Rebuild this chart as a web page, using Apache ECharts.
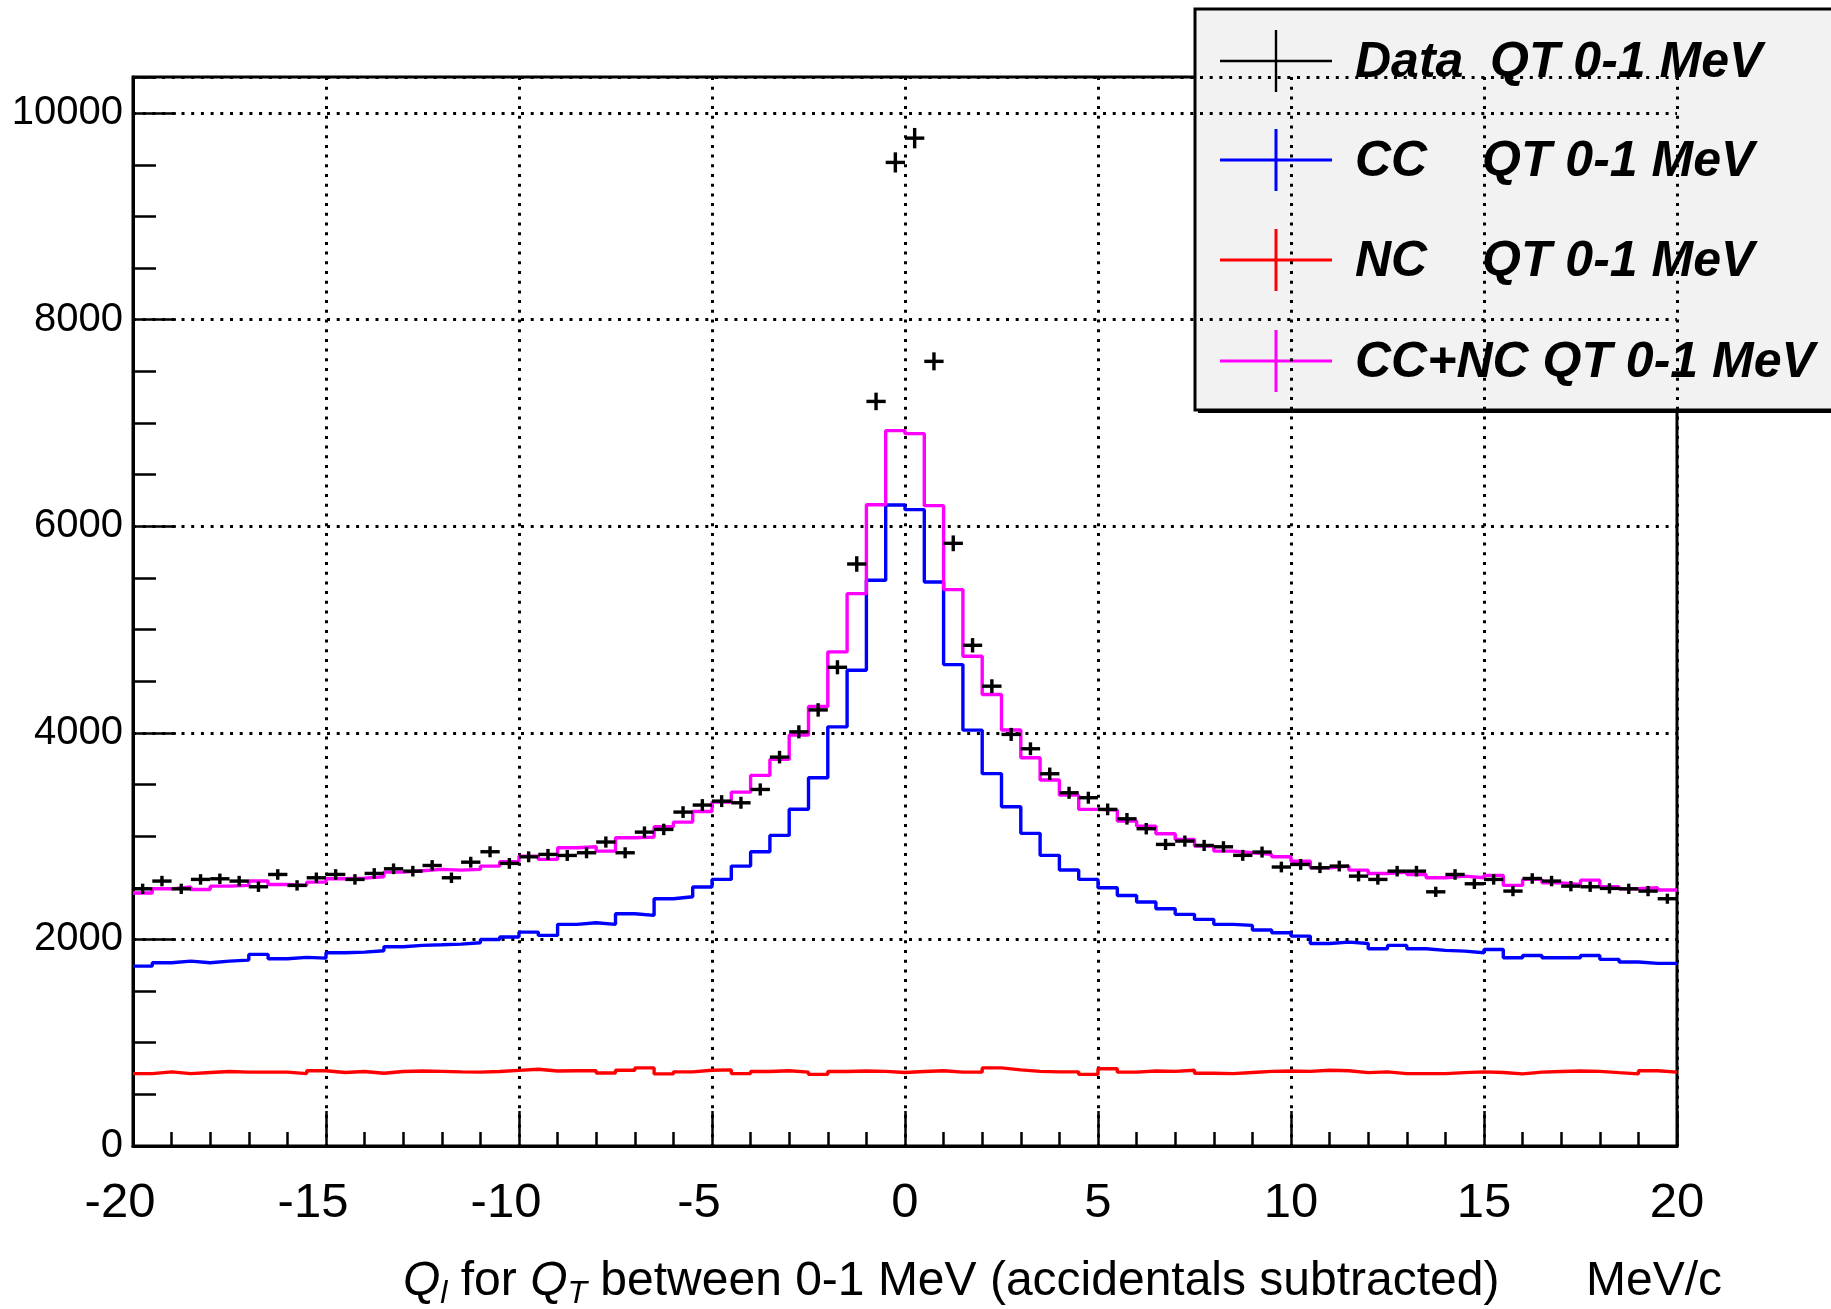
<!DOCTYPE html>
<html>
<head>
<meta charset="utf-8">
<title>Q_l for Q_T between 0-1 MeV</title>
<script src="https://cdn.jsdelivr.net/npm/echarts@6.0.0/dist/echarts.min.js"></script>
<style>
  html, body { margin: 0; padding: 0; background: #fff; }
  #chart { width: 1831px; height: 1309px; }
</style>
</head>
<body>
<div id="chart"></div>
<script>
// Binning of the Q_l histograms (MeV/c): 80 bins of 0.5 from -20 to 20
const X_MIN = -20;
const X_MAX = 20;
const BIN_WIDTH = 0.5;

// Data, Q_T 0-1 MeV (counts per bin, accidentals subtracted)
const dataCounts = [
  2490, 2565, 2490, 2581, 2587, 2565, 2510, 2629, 2523, 2597,
  2629, 2581, 2639, 2684, 2661, 2716, 2597, 2748, 2849, 2736,
  2800, 2823, 2813, 2839, 2943, 2839, 3039, 3065, 3233, 3301,
  3339, 3323, 3452, 3765, 4010, 4222, 4635, 5635, 7209, 9523,
  9758, 7597, 5835, 4848, 4452, 3985, 3846, 3604, 3420, 3372,
  3259, 3168, 3072, 2920, 2952, 2910, 2897, 2814, 2846, 2701,
  2726, 2694, 2710, 2613, 2581, 2661, 2661, 2461, 2629, 2539,
  2581, 2468, 2590, 2565, 2516, 2510, 2494, 2490, 2468, 2394
];

// CC simulation, Q_T 0-1 MeV
const ccCounts = [
  1742, 1774, 1790, 1774, 1790, 1800, 1855, 1813, 1826, 1819,
  1871, 1877, 1890, 1929, 1942, 1948, 1955, 1968, 2000, 2023,
  2071, 2039, 2146, 2162, 2146, 2249, 2233, 2394, 2413, 2507,
  2581, 2710, 2849, 3007, 3260, 3565, 4058, 4606, 5477, 6206,
  6161, 5461, 4661, 4026, 3605, 3285, 3027, 2814, 2672, 2581,
  2501, 2426, 2362, 2297, 2243, 2194, 2146, 2136, 2091, 2065,
  2032, 1961, 1974, 1961, 1910, 1942, 1910, 1894, 1887, 1871,
  1903, 1823, 1845, 1823, 1823, 1845, 1807, 1781, 1768, 1768
];

// NC simulation, Q_T 0-1 MeV
const ncCounts = [
  701, 718, 701, 712, 721, 715, 715, 715, 701, 729,
  712, 721, 704, 721, 726, 723, 718, 715, 721, 732,
  743, 726, 729, 729, 707, 734, 756, 698, 718, 734,
  737, 701, 721, 729, 715, 693, 721, 726, 723, 712,
  721, 729, 715, 715, 756, 737, 723, 718, 718, 693,
  748, 715, 726, 723, 734, 704, 701, 712, 723, 726,
  723, 734, 729, 710, 718, 701, 701, 701, 710, 718,
  712, 698, 715, 721, 726, 723, 710, 698, 729, 715
];

// CC+NC sum, Q_T 0-1 MeV
const sumCounts = [
  2450, 2490, 2507, 2484, 2516, 2523, 2565, 2532, 2523, 2555,
  2587, 2594, 2607, 2652, 2665, 2678, 2671, 2678, 2710, 2752,
  2805, 2775, 2888, 2897, 2855, 2984, 2991, 3091, 3136, 3239,
  3330, 3426, 3588, 3743, 3980, 4255, 4784, 5348, 6209, 6926,
  6897, 6200, 5387, 4742, 4372, 4027, 3759, 3543, 3397, 3259,
  3252, 3146, 3097, 3023, 2968, 2904, 2855, 2839, 2823, 2801,
  2757, 2694, 2710, 2671, 2639, 2652, 2629, 2597, 2613, 2597,
  2620, 2523, 2581, 2548, 2532, 2574, 2510, 2490, 2500, 2478
];

// Axis ticks
const xTickStep = 5;
const yTickStep = 2000;
const yMinorStep = 500;
const yTop = 10350;

// Low edge of bin i
function binLow(i) { return X_MIN + i * BIN_WIDTH; }

// Step outline of a histogram: one point per low edge, plus the upper edge of the last bin
function histOutline(counts) {
  const pts = counts.map((v, i) => [binLow(i), v]);
  pts.push([X_MAX, counts[counts.length - 1]]);
  return pts;
}

// Data points: bin centre, content, Poisson error
const dataPoints = dataCounts.map((v, i) => [binLow(i) + BIN_WIDTH / 2, v, Math.sqrt(v)]);

const FONT = '"Liberation Sans", Arial, Helvetica, sans-serif';
const dotted = { color: '#000', width: 3, type: [3, 6.7], cap: 'butt' };

const chart = echarts.init(document.getElementById('chart'), null, { renderer: 'canvas' });

function histSeries(name, counts, color) {
  return {
    name: name,
    type: 'line',
    step: 'end',
    data: histOutline(counts),
    showSymbol: false,
    symbol: 'none',
    lineStyle: { color: color, width: 3.4 },
    itemStyle: { color: color },
    xAxisIndex: 0,
    yAxisIndex: 0,
    animation: false,
    silent: true,
    z: 3
  };
}

// Legend rows: label, second column, colour, row centre
const legendRows = [
  { a: 'Data', b: 'QT 0-1 MeV', bx: 1490, color: '#000', y: 61, w: 2.4 },
  { a: 'CC', b: 'QT 0-1 MeV', bx: 1482, color: '#0000ff', y: 160, w: 3 },
  { a: 'NC', b: 'QT 0-1 MeV', bx: 1482, color: '#ff0000', y: 260, w: 3 },
  { a: 'CC+NC QT 0-1 MeV', b: '', bx: 0, color: '#ff00ff', y: 361, w: 3 }
];

const LEGEND_FONT = 'italic bold 50px ' + FONT;
const legendChildren = [
  { type: 'rect', shape: { x: 1198, y: 12, width: 660, height: 401 }, style: { fill: '#000' } },
  { type: 'rect', shape: { x: 1195, y: 9, width: 660, height: 401 },
    style: { fill: '#f2f2f2', stroke: '#000', lineWidth: 3 } }
];
legendRows.forEach(r => {
  legendChildren.push(
    { type: 'line', shape: { x1: 1220, y1: r.y, x2: 1332, y2: r.y }, style: { stroke: r.color, lineWidth: r.w } },
    { type: 'line', shape: { x1: 1276, y1: r.y - 31, x2: 1276, y2: r.y + 31 }, style: { stroke: r.color, lineWidth: r.w } },
    { type: 'text', x: 1355, y: r.y + 2,
      style: { text: r.a, fill: '#000', font: LEGEND_FONT, verticalAlign: 'middle' } }
  );
  if (r.b) {
    legendChildren.push({ type: 'text', x: r.bx, y: r.y + 2,
      style: { text: r.b, fill: '#000', font: LEGEND_FONT, verticalAlign: 'middle' } });
  }
});

const option = {
  backgroundColor: '#fff',
  animation: false,
  grid: {
    left: 133, top: 77, right: 154, bottom: 163,
    show: true, borderColor: '#000', borderWidth: 3, backgroundColor: 'transparent',
    containLabel: false
  },
  xAxis: [{
    type: 'value',
    min: X_MIN, max: X_MAX, interval: xTickStep,
    axisLine: { show: true, onZero: false, lineStyle: { color: '#000', width: 3 } },
    axisTick: { show: true, inside: true, length: 35, lineStyle: { color: '#000', width: 2.5 } },
    minorTick: { show: true, splitNumber: 5, length: 14, lineStyle: { color: '#000', width: 2.5 } },
    axisLabel: {
      show: true, margin: 33, color: '#000', fontSize: 49, fontFamily: FONT,
      showMinLabel: true, showMaxLabel: true,
      // negative labels sit slightly left of their tick
      formatter: v => (v < 0 ? '{neg|' + v + '}' : '{pos|' + v + '}'),
      rich: {
        neg: { fontSize: 49, fontFamily: FONT, color: '#000', padding: [0, 26, 0, 0] },
        pos: { fontSize: 49, fontFamily: FONT, color: '#000' }
      }
    },
    splitLine: { show: true, lineStyle: dotted },
    minorSplitLine: { show: false }
  }],
  yAxis: [{
    type: 'value', position: 'left', offset: 0,
    min: 0, max: yTop, interval: yTickStep,
    axisLine: { show: true, onZero: false, lineStyle: { color: '#000', width: 3 } },
    axisTick: { show: true, inside: true, length: 43, lineStyle: { color: '#000', width: 2.5 } },
    axisLabel: { show: true, margin: 10, color: '#000', fontSize: 40, fontFamily: FONT,
      showMaxLabel: false, formatter: v => String(v) },
    splitLine: { show: true, lineStyle: dotted }
  }, {
    type: 'value', position: 'left', offset: 0,
    min: 0, max: yTop, interval: yMinorStep,
    axisLine: { show: false, onZero: false },
    axisTick: { show: true, inside: true, length: 23, lineStyle: { color: '#000', width: 2.5 } },
    axisLabel: { show: false },
    splitLine: { show: false }
  }],
  series: [
    histSeries('NC    QT 0-1 MeV', ncCounts, '#ff0000'),
    histSeries('CC    QT 0-1 MeV', ccCounts, '#0000ff'),
    histSeries('CC+NC QT 0-1 MeV', sumCounts, '#ff00ff'),
    {
      name: 'Data  QT 0-1 MeV',
      type: 'custom',
      xAxisIndex: 0,
      yAxisIndex: 0,
      data: dataPoints,
      encode: { x: 0, y: 1 },
      silent: true,
      z: 4,
      renderItem: function (params, api) {
        const x = api.value(0), y = api.value(1), e = api.value(2);
        const l = api.coord([x - BIN_WIDTH / 2, y]);
        const r = api.coord([x + BIN_WIDTH / 2, y]);
        const t = api.coord([x, y + e]);
        const b = api.coord([x, y - e]);
        return {
          type: 'group',
          children: [
            { type: 'line', shape: { x1: l[0], y1: l[1], x2: r[0], y2: r[1] },
              style: { stroke: '#000', lineWidth: 3.4 } },
            { type: 'line', shape: { x1: t[0], y1: t[1], x2: b[0], y2: b[1] },
              style: { stroke: '#000', lineWidth: 3.4 } }
          ]
        };
      }
    }
  ],
  graphic: [
    { type: 'group', z: 100, children: legendChildren },
    {
      type: 'text', z: 50, x: 403, y: 1282,
      style: {
        text: '{q|Q}{s|l}{t| for }{q|Q}{s|T}{t| between 0-1 MeV (accidentals subtracted)}',
        verticalAlign: 'middle',
        rich: {
          q: { fontSize: 48, fontFamily: FONT, fill: '#000', fontStyle: 'italic' },
          s: { fontSize: 32, fontFamily: FONT, fill: '#000', fontStyle: 'italic', padding: [24, 0, 0, 0] },
          t: { fontSize: 48, fontFamily: FONT, fill: '#000' }
        }
      }
    },
    {
      type: 'text', z: 50, x: 1586, y: 1282,
      style: { text: 'MeV/c', fill: '#000', font: '48px ' + FONT, verticalAlign: 'middle' }
    }
  ]
};

chart.setOption(option);
</script>
</body>
</html>
